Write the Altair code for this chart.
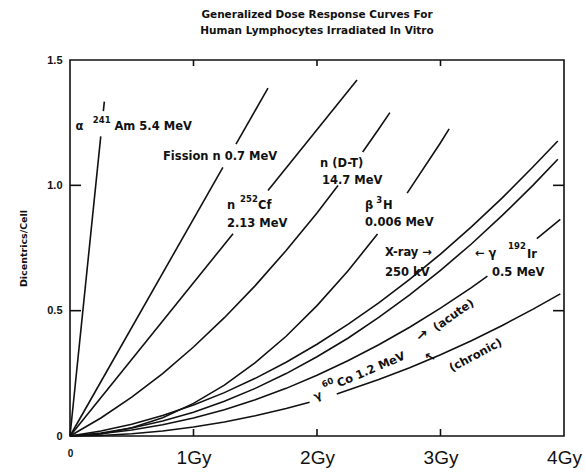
import altair as alt
import pandas as pd

# ---- curves: each curve is a list of segments (gaps where labels sit) ----
am_dose = [[0.0, 0.249], [0.270, 0.278]]
am_val = [[0.0, 1.195], [1.296, 1.334]]

fission_dose = [[0.0, 1.238], [1.344, 1.603]]
fission_val = [[0.0, 1.072], [1.164, 1.388]]

cf_dose = [[0.0, 1.32], [1.603, 2.324]]
cf_val = [[0.0, 0.807], [0.979, 1.42]]

dt_dose = [[0.0, 0.25, 0.5, 0.75, 1.0, 1.25, 1.5, 1.75, 2.0, 2.17], [2.37, 2.5, 2.59]]
dt_val = [[0.0, 0.072, 0.155, 0.249, 0.355, 0.472, 0.600, 0.740, 0.890, 0.999], [1.133, 1.225, 1.290]]

h3_dose = [[0.0, 0.25, 0.5, 0.75, 1.0, 1.25, 1.5, 1.75, 2.0, 2.25, 2.49], [2.73, 3.0, 3.07]]
h3_val = [[0.0, 0.008, 0.033, 0.073, 0.130, 0.203, 0.293, 0.398, 0.520, 0.658, 0.806], [0.969, 1.170, 1.225]]

xray_dose = [[0.0, 0.25, 0.5, 0.75, 1.0, 1.25, 1.5, 1.75, 2.0, 2.25, 2.5, 2.75, 3.0, 3.25, 3.5, 3.75, 3.95]]
xray_val = [[0.0, 0.020, 0.047, 0.082, 0.124, 0.173, 0.230, 0.294, 0.366, 0.445, 0.531, 0.625, 0.726, 0.834, 0.950, 1.074, 1.177]]

ir_dose = [[0.0, 0.25, 0.5, 0.75, 1.0, 1.25, 1.5, 1.75, 2.0, 2.25, 2.5, 2.75, 3.0, 3.25, 3.5, 3.75, 3.95]]
ir_val = [[0.0, 0.012, 0.032, 0.060, 0.095, 0.139, 0.190, 0.249, 0.316, 0.390, 0.473, 0.563, 0.661, 0.766, 0.880, 1.001, 1.104]]

coa_dose = [[0.0, 0.25, 0.5, 0.75, 1.0, 1.25, 1.5, 1.75, 2.0, 2.25, 2.5, 2.75, 3.0, 3.25, 3.38], [3.78, 3.97]]
coa_val = [[0.0, 0.009, 0.024, 0.045, 0.072, 0.105, 0.145, 0.190, 0.242, 0.300, 0.364, 0.434, 0.510, 0.592, 0.638], [0.787, 0.864]]

coc_dose = [[0.0, 0.25, 0.5, 0.75, 1.0, 1.25, 1.5, 1.75, 1.94], [2.16, 2.5, 2.75, 3.0, 3.25, 3.5, 3.75, 3.97]]
coc_val = [[0.0, 0.002, 0.009, 0.020, 0.036, 0.056, 0.081, 0.110, 0.135], [0.168, 0.225, 0.272, 0.324, 0.380, 0.441, 0.506, 0.567]]

curves = {
    "Am241": (am_dose, am_val),
    "Fission": (fission_dose, fission_val),
    "Cf252": (cf_dose, cf_val),
    "DT": (dt_dose, dt_val),
    "H3": (h3_dose, h3_val),
    "Xray": (xray_dose, xray_val),
    "Ir192": (ir_dose, ir_val),
    "CoAcute": (coa_dose, coa_val),
    "CoChronic": (coc_dose, coc_val),
}

# ---- labels (horizontal, left aligned) ----
lab_text = ["α", "Am 5.4 MeV", "Fission n 0.7 MeV", "n", "Cf", "2.13 MeV",
            "n (D-T)", "14.7 MeV", "β", "H", "0.006 MeV", "X-ray →", "250 kV",
            "← γ", "Ir", "0.5 MeV"]
lab_dose = [0.045, 0.36, 0.753, 1.271, 1.522, 1.271, 2.024, 2.04, 2.389, 2.534, 2.389,
            2.551, 2.551, 3.279, 3.70, 3.417]
lab_val = [1.232, 1.232, 1.112, 0.916, 0.916, 0.844, 1.084, 1.016, 0.916, 0.916, 0.848,
           0.732, 0.652, 0.728, 0.724, 0.652]

# superscripts (small)
sup_text = ["241", "252", "3", "192"]
sup_dose = [0.185, 1.377, 2.48, 3.547]
sup_val = [1.262, 0.944, 0.942, 0.756]

# rotated labels
rot_text = ["γ", "Co 1.2 MeV", "(acute)", "(chronic)", "↗", "←"]
rot_dose = [2.008, 2.44, 3.109, 3.287, 2.85, 2.915]
rot_val = [0.158, 0.262, 0.48, 0.32, 0.40, 0.316]
rot_angle = [338, 337, 325, 332, 0, 30]
rot_size = [11.5, 11.5, 11.5, 11.5, 14, 13]

rsup_text = ["60"]
rsup_dose = [2.085]
rsup_val = [0.214]
rsup_angle = [337]

xtick_vals = [1, 2, 3]
ytick_vals = [0.5, 1.0]

title_lines = ["Generalized Dose Response Curves For", "Human Lymphocytes Irradiated In Vitro"]

# ---- build tables ----
rows = []
for name, (ds, vs) in curves.items():
    for si, (dseg, vseg) in enumerate(zip(ds, vs)):
        for i, (d, v) in enumerate(zip(dseg, vseg)):
            rows.append({"key": f"{name}_{si}", "dose": d, "value": v, "i": i})
df = pd.DataFrame(rows)
lab_df = pd.DataFrame({"text": lab_text, "dose": lab_dose, "value": lab_val})
sup_df = pd.DataFrame({"text": sup_text, "dose": sup_dose, "value": sup_val})
rot_df = pd.DataFrame({"text": rot_text, "dose": rot_dose, "value": rot_val,
                       "angle": rot_angle, "size": rot_size})
rsup_df = pd.DataFrame({"text": rsup_text, "dose": rsup_dose, "value": rsup_val, "angle": rsup_angle})
xt_df = pd.DataFrame({"t": xtick_vals})
yt_df = pd.DataFrame({"t": ytick_vals})

W, H = 494, 376
xscale = alt.Scale(domain=[0, 4], nice=False, zero=False)
yscale = alt.Scale(domain=[0, 1.5], nice=False, zero=False)

x_axis = alt.Axis(
    values=[0, 1, 2, 3, 4], labelExpr="datum.value == 0 ? '0' : datum.value + 'Gy'",
    ticks=False, domain=False, grid=False, title=None, labelFont="Liberation Sans",
    labelFontSize={"condition": {"test": "datum.value == 0", "value": 10}, "value": 19},
    labelFontWeight={"condition": {"test": "datum.value == 0", "value": "bold"}, "value": "normal"},
    labelColor="#111", labelPadding=12, labelFlush=False, labelOverlap=False,
)
y_axis = alt.Axis(
    values=[0, 0.5, 1.0, 1.5], labelExpr="datum.value == 0 ? '0' : format(datum.value, '.1f')",
    ticks=False, domain=False, grid=False, title="Dicentrics/Cell",
    labelFont="Liberation Sans", labelFontSize=11, labelFontWeight="bold", labelColor="#111",
    labelPadding=8, labelFlush=False, labelOverlap=False,
    titleFont="DejaVu Sans", titleFontSize=9.5, titleFontWeight="bold", titleColor="#111",
    titleX=-47, titleY=188, titleAngle=270, titleAlign="center", titleBaseline="middle",
)

lines = alt.Chart(df).mark_line(color="#111", strokeWidth=1.6).encode(
    x=alt.X("dose:Q", scale=xscale, axis=x_axis),
    y=alt.Y("value:Q", scale=yscale, axis=y_axis),
    detail="key:N",
    order="i:Q",
)

tick_style = dict(color="#111", strokeWidth=1.6)
bt = alt.Chart(xt_df).mark_rule(**tick_style).encode(
    x=alt.X("t:Q", scale=xscale), y=alt.value(H), y2=alt.value(H - 7))
tt = alt.Chart(xt_df).mark_rule(**tick_style).encode(
    x=alt.X("t:Q", scale=xscale), y=alt.value(0), y2=alt.value(6))
lt = alt.Chart(yt_df).mark_rule(**tick_style).encode(
    y=alt.Y("t:Q", scale=yscale), x=alt.value(0), x2=alt.value(11))
rt = alt.Chart(yt_df).mark_rule(**tick_style).encode(
    y=alt.Y("t:Q", scale=yscale), x=alt.value(W), x2=alt.value(W - 11))

txt = dict(baseline="middle", font="DejaVu Sans", fontWeight="bold", color="#111")

labels = alt.Chart(lab_df).mark_text(align="left", fontSize=11.5, **txt).encode(
    x=alt.X("dose:Q", scale=xscale), y=alt.Y("value:Q", scale=yscale), text="text:N")

sups = alt.Chart(sup_df).mark_text(align="left", fontSize=8.5, **txt).encode(
    x=alt.X("dose:Q", scale=xscale), y=alt.Y("value:Q", scale=yscale), text="text:N")

rot_labels = alt.Chart(rot_df).mark_text(align="center", **txt).encode(
    x=alt.X("dose:Q", scale=xscale), y=alt.Y("value:Q", scale=yscale),
    text="text:N", angle=alt.Angle("angle:Q", scale=None),
    size=alt.Size("size:Q", scale=None))

rot_sups = alt.Chart(rsup_df).mark_text(align="center", fontSize=8.5, **txt).encode(
    x=alt.X("dose:Q", scale=xscale), y=alt.Y("value:Q", scale=yscale),
    text="text:N", angle=alt.Angle("angle:Q", scale=None))

chart = alt.layer(lines, bt, tt, lt, rt, labels, sups, rot_labels, rot_sups).properties(
    width=W, height=H,
    padding={"left": 70, "top": 60, "right": 22, "bottom": 37},
    autosize=alt.AutoSizeParams(type="none"),
    title=alt.TitleParams(text=title_lines, font="DejaVu Sans", fontSize=10.5,
                          fontWeight="bold", color="#111", anchor="middle",
                          offset=18, lineHeight=16),
    background="white",
).configure_view(stroke="#111", strokeWidth=1.6)

chart.save("out.html", embed_options={"renderer": "svg", "actions": False})
